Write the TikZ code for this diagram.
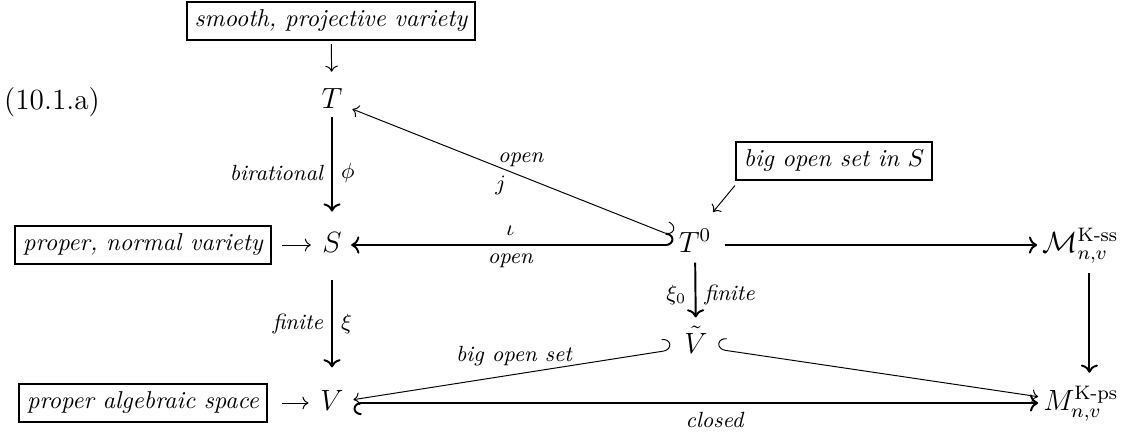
\documentclass[tikz,border=0pt]{standalone}
\usepackage{amsmath}
\usetikzlibrary{arrows.meta}
\begin{document}
\begin{tikzpicture}[x=0.0144cm,y=-0.0144cm,
  obj/.style={inner sep=0pt, text height=7pt, text depth=1pt, font=\large},
  box/.style={draw, line width=0.8pt, font=\itshape},
  lbl/.style={font=\small\itshape},
  mlbl/.style={font=\small},
  map/.style={line width=0.8pt},
  thinmap/.style={line width=0.4pt},
  hookL/.style={{Hooks[left,width=10pt,length=3.2pt]}->},
  hookR/.style={{Hooks[right,width=10pt,length=3.2pt]}->}]
\useasboundingbox (0,0) rectangle (1131,437);
\node[font=\large] (tag) at (52,102) {(10.1.a)};
\node[box] (sp) at (331,21) {smooth, projective variety};
\node[box] (nv) at (143,245) {proper, normal variety};
\node[box] (as) at (143,403) {proper algebraic space};
\node[box] (bo) at (834,161) {big open set in $S$};
\node[obj] (T) at (332,101) {$T$};
\node[obj] (S) at (332,245) {$S$};
\node[obj] (V) at (332,403) {$V$};
\node[obj] (t0) at (695,245) {$T^0$};
\node[obj] (vt) at (696,346) {$\tilde V$};
\node[obj, anchor=west] (mss) at (1042,245) {$\mathcal{M}^{\text{K-ss}}_{n,v}$};
\node[obj, anchor=west] (mps) at (1043,403) {$M^{\text{K-ps}}_{n,v}$};
\coordinate (t0tip) at (713,212);
% pointers from the boxes
\draw[thinmap, ->, shorten <=1.2pt, shorten >=7.8pt] (sp) -- (T);
\draw[thinmap, ->, shorten <=4.1pt, shorten >=4.5pt] (nv) -- (S);
\draw[thinmap, ->, shorten <=5.7pt, shorten >=4.7pt] (as) -- (V);
\draw[thinmap, ->, shorten <=2.4pt] ([xshift=1.6pt]bo.south west) -- (t0tip);
% the square
\draw[map, ->, shorten <=2.5pt, shorten >=9.5pt] (T) -- node[lbl, left] {birational} node[mlbl, right] {$\phi$} (S);
\draw[map, ->, shorten <=10.3pt, shorten >=10.4pt] (S) -- node[lbl, left] {finite} node[mlbl, right] {$\xi$} (V);
\draw[map, hookL, shorten <=2pt, shorten >=3.7pt] (t0) -- node[mlbl, above] {$\iota$} node[lbl, below] {open} (S);
\draw[thinmap, hookL, shorten <=2.9pt, shorten >=4.2pt] (t0) -- node[lbl, above, pos=0.47] {open} node[mlbl, below, pos=0.53] {$j$} (T);
\draw[map, ->, shorten <=5.3pt, shorten >=2pt] (t0) -- (mss);
\draw[map, ->, shorten <=3pt, shorten >=7.5pt] (t0) -- node[mlbl, left] {$\xi_0$} node[lbl, right] {finite} (vt);
\draw[map, ->, shorten <=7.4pt, shorten >=8.2pt] ([xshift=3.7pt]mss.south) -- ([xshift=3.7pt]mss.south |- mps.north);
\draw[thinmap, hookL, shorten <=5.3pt, shorten >=3.9pt] (vt) -- node[lbl, above] {big open set} (V);
\draw[thinmap, hookR, shorten <=3.9pt, shorten >=2pt] (vt) -- (mps);
\draw[map, hookL, shorten <=3.9pt, shorten >=2pt] (V) -- node[lbl, below, pos=0.53] {closed} (mps);
\end{tikzpicture}
\end{document}
